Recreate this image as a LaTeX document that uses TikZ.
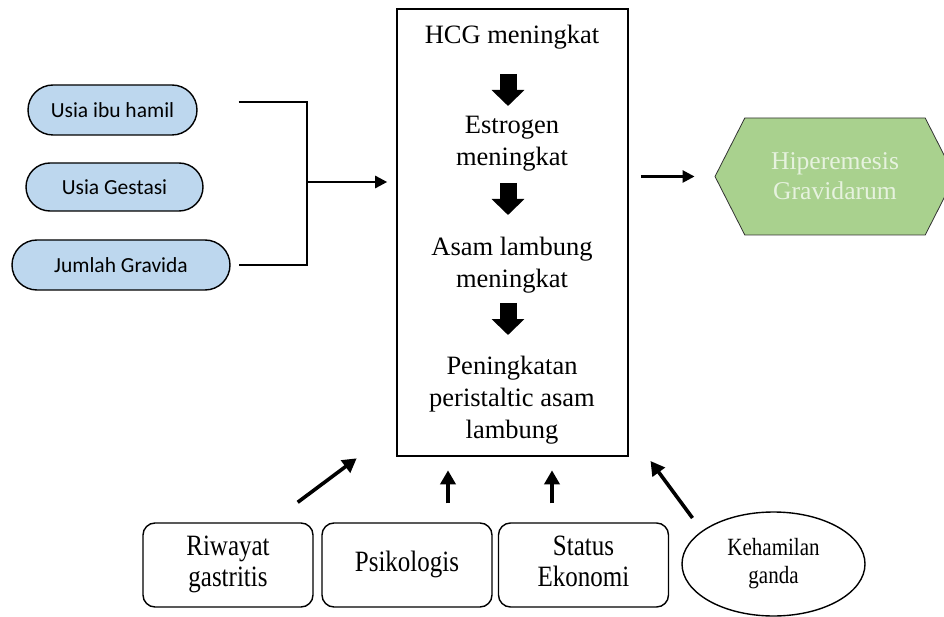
\documentclass[tikz,border=0pt]{standalone}
\usepackage{fontspec}
\setmainfont{Liberation Serif}
\newfontfamily\calibri{Carlito}
\usepackage{xcolor}
\usepackage{graphicx}
\usetikzlibrary{positioning,arrows.meta,shapes.misc,shapes.geometric,shapes.symbols}
\definecolor{pillblue}{RGB}{189,215,238}
\definecolor{hexgreen}{RGB}{169,209,142}
\definecolor{hextext}{RGB}{230,242,222}
% bottom labels are printed a little taller than wide
\newcommand{\talltxt}[1]{\scalebox{1}[1.18]{\begin{tabular}{@{}c@{}}#1\end{tabular}}}

\begin{document}
\begin{tikzpicture}[x=1pt, y=-1pt,
    pill/.style={draw, line width=1.4pt, rounded rectangle, fill=pillblue,
                 minimum height=50pt, inner sep=0pt, font=\calibri\fontsize{21.5}{25}\selectfont},
    mtxt/.style={align=center, inner sep=0pt, font=\fontsize{26.5}{32}\selectfont},
    fbox/.style={draw, line width=1.4pt, rounded corners=12pt, minimum width=170pt,
                 minimum height=84pt, align=center, inner sep=0pt,
                 font=\fontsize{25}{26}\selectfont},
    hexa/.style={signal, signal to=west and east, signal pointer angle=126,
                 draw=black!80, line width=0.8pt, fill=hexgreen, text=hextext,
                 minimum width=240pt, minimum height=117pt, inner sep=0pt,
                 align=center, font=\fontsize{25.6}{30}\selectfont},
    blk/.style={line width=17pt, -{Triangle[length=16pt 0,width=32pt 0]}},
    arr/.style={line width=2.6pt, -{Triangle[length=12pt 0,width=12pt 0]}},
    uarr/.style={line width=3.6pt, -{Triangle[length=14pt 0,width=15pt 0]}},
    brk/.style={line width=1.4pt},
]
\useasboundingbox (0,0) rectangle (944,617);
% central box with the chain of causes
\node[draw, line width=1.6pt, minimum width=231pt, minimum height=447pt, inner sep=0pt] (box) at (512.5,232.5) {};
\node[mtxt] (hcg) at (512,37)  {HCG meningkat};
\node[mtxt] (est) at (512,144) {Estrogen\\meningkat};
\node[mtxt] (asm) at (512,265) {Asam lambung\\meningkat};
\node[mtxt] (per) at (512,400) {Peningkatan\\peristaltic asam\\lambung};
\draw[blk] (hcg) ++(-4,37) -- ++(0,32);
\draw[blk] (est) ++(-4,39) -- ++(0,32);
\draw[blk] (asm) ++(-4,38) -- ++(0,32);
% left factors
\node[pill, minimum width=169pt] (ibu) at (112.5,110) {Usia ibu hamil};
\node[pill, minimum width=177pt, minimum height=48pt] (ges) at (114.5,187) {Usia Gestasi};
\node[pill, minimum width=218pt] (jum) at (121,265) {Jumlah Gravida};
\coordinate (jn) at (307,182);
\draw[brk] ([xshift=41pt,yshift=8pt]ibu.east) -| (jn) |- ([xshift=8pt]jum.east);
\draw[arr, shorten >=9pt] (jn) -- (jn -| box.west);
% outcome
\node[hexa] (hg) at (835,176.5) {Hiperemesis\\Gravidarum};
\draw[arr, shorten <=12pt, shorten >=20pt] (box.east |- hg.west) -- (hg.west);
% bottom factors
\node[fbox] (riw) at (228,565)   {\talltxt{Riwayat\\gastritis}};
\node[fbox] (psi) at (407,565)   {\talltxt{Psikologis}};
\node[fbox] (sta) at (583.5,565) {\talltxt{Status\\Ekonomi}};
\node[draw, ellipse, line width=1.4pt, minimum width=183pt, minimum height=104pt, inner sep=0pt,
      font=\fontsize{21}{23}\selectfont] (keh) at (773.5,564) {\raisebox{-3pt}{\talltxt{Kehamilan\\ganda}}};
\draw[uarr] (riw.north east) ++(-16,-20) -- ++(59,-44);
\draw[uarr] (psi.north) ++(41,-19) -- ++(0,-33);
\draw[uarr] (sta.north) ++(-31.5,-19) -- ++(0,-33);
\draw[uarr] (keh) ++(-81,-46) -- ++(-42,-57);
\end{tikzpicture}
\end{document}
